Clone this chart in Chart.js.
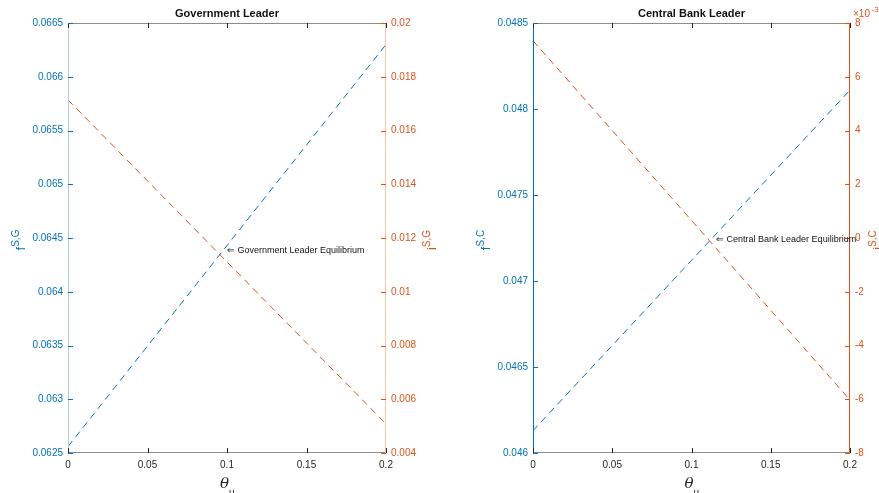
<!DOCTYPE html>
<html>
<head>
<meta charset="utf-8">
<script src="https://cdn.jsdelivr.net/npm/chart.js@4"></script>
<style>
	body { margin: 0; background: #fff; }
	.panel { position: absolute; top: 0; height: 493px; }
</style>
</head>
<body>
<div class="panel" style="left:0;width:440px"><canvas id="govChart"></canvas></div>
<div class="panel" style="left:440px;width:439px"><canvas id="cbChart"></canvas></div>
<script>
// theta_u endpoints
const thetaU = [0, 0.2]
const xTicks = [0, 0.05, 0.1, 0.15, 0.2]

// Government leader
const fSG = [0.06256, 0.06630]
const iSG = [0.01714, 0.00508]
const govEq = { x: 0.1, y: 0.06438, text: "\u21D0 Government Leader Equilibrium" }

// Central bank leader
const fSC = [0.04613, 0.04811]
const iSC = [0.00734, -0.00603]
const cbEq = { x: 0.1155, y: 0.04724, text: "\u21D0 Central Bank Leader Equilibrium" }

const BLUE = "#0072BD"
const ORANGE = "#D95319"
const FONT = "'Liberation Sans', Arial, Helvetica, sans-serif"

const fmt = (v) => parseFloat(v.toFixed(6)).toString()

const pts = (ys) => thetaU.map((x, i) => ({ x: x, y: ys[i] }))

// label with superscript, rotated to read bottom to top
function supLabel(ctx, cx, cy, base, sup, color) {
	ctx.save()
	ctx.translate(cx, cy)
	ctx.rotate(-Math.PI / 2)
	ctx.fillStyle = color
	ctx.textBaseline = "alphabetic"
	ctx.font = "13px " + FONT
	const bw = ctx.measureText(base).width
	ctx.font = "10px " + FONT
	const sw = ctx.measureText(sup).width
	const x0 = -(bw + sw) / 2
	ctx.font = "13px " + FONT
	ctx.textAlign = "left"
	ctx.fillText(base, x0, 5)
	ctx.font = "10px " + FONT
	ctx.fillText(sup, x0 + bw, -1)
	ctx.restore()
}

function makePanel(id, p) {
	const decor = {
		id: "decor",
		afterDraw(chart) {
			const ctx = chart.ctx
			const a = chart.chartArea
			const xs = chart.scales.x, yl = chart.scales.y, yr = chart.scales.y2
			ctx.save()
			// box
			ctx.lineWidth = 1
			ctx.strokeStyle = "#8c8c8c"
			ctx.beginPath()
			ctx.moveTo(a.left, a.top + 0.5); ctx.lineTo(a.right, a.top + 0.5)
			ctx.moveTo(a.left, a.bottom - 0.5); ctx.lineTo(a.right, a.bottom - 0.5)
			ctx.stroke()
			ctx.strokeStyle = p.leftAxis
			ctx.beginPath(); ctx.moveTo(a.left + 0.5, a.top); ctx.lineTo(a.left + 0.5, a.bottom); ctx.stroke()
			ctx.strokeStyle = p.rightAxis
			ctx.beginPath(); ctx.moveTo(a.right - 0.5, a.top); ctx.lineTo(a.right - 0.5, a.bottom); ctx.stroke()
			// inward ticks
			ctx.strokeStyle = "#262626"
			ctx.beginPath()
			xs.ticks.forEach((t) => {
				const px = Math.round(xs.getPixelForValue(t.value)) + 0.5
				ctx.moveTo(px, a.bottom); ctx.lineTo(px, a.bottom - 5)
				ctx.moveTo(px, a.top); ctx.lineTo(px, a.top + 5)
			})
			ctx.stroke()
			ctx.strokeStyle = BLUE
			ctx.beginPath()
			yl.ticks.forEach((t) => {
				const py = Math.round(yl.getPixelForValue(t.value)) + 0.5
				ctx.moveTo(a.left, py); ctx.lineTo(a.left + 5, py)
			})
			ctx.stroke()
			ctx.strokeStyle = ORANGE
			ctx.beginPath()
			yr.ticks.forEach((t) => {
				const py = Math.round(yr.getPixelForValue(t.value)) + 0.5
				ctx.moveTo(a.right, py); ctx.lineTo(a.right - 5, py)
			})
			ctx.stroke()
			// title
			ctx.fillStyle = "#111"
			ctx.font = "bold 11px " + FONT
			ctx.textAlign = "center"
			ctx.textBaseline = "middle"
			ctx.fillText(p.title, (a.left + a.right) / 2, 14)
			// x title
			const cx = (a.left + a.right) / 2
			ctx.fillStyle = "#262626"
			ctx.font = "italic 15px 'DejaVu Serif', serif"
			ctx.textAlign = "right"
			ctx.textBaseline = "alphabetic"
			ctx.fillText("\u03B8", cx + 2, 488)
			ctx.font = "10px " + FONT
			ctx.textAlign = "left"
			ctx.fillText("u", cx + 2, 496)
			// y titles
			supLabel(ctx, p.leftLabelX, 240, "f", p.supText, BLUE)
			supLabel(ctx, p.rightLabelX, 240, "i", p.supText, ORANGE)
			// annotation
			const ax = xs.getPixelForValue(p.eq.x)
			const ay = yl.getPixelForValue(p.eq.y)
			ctx.fillStyle = "#111"
			ctx.font = "9px " + FONT
			ctx.textAlign = "left"
			ctx.textBaseline = "middle"
			ctx.fillText(p.eq.text, ax, ay)
			if (p.exponent) {
				ctx.fillStyle = ORANGE
				ctx.font = "10px " + FONT
				ctx.textBaseline = "alphabetic"
				ctx.fillText("\u00D710", a.right + 3, 17)
				ctx.font = "8px " + FONT
				ctx.fillText("-3", a.right + 3 + ctx.measureText("\u00D710").width + 5, 12)
			}
			ctx.restore()
		},
	}

	const config = {
		type: "line",
		data: {
			datasets: [
				{
					data: pts(p.f),
					yAxisID: "y",
					borderColor: BLUE,
					borderWidth: 1,
					borderDash: [7, 5],
					pointRadius: 0,
				},
				{
					data: pts(p.i),
					yAxisID: "y2",
					borderColor: ORANGE,
					borderWidth: 1,
					borderDash: [7, 5],
					pointRadius: 0,
				},
			],
		},
		options: {
			responsive: true,
			maintainAspectRatio: false,
			animation: false,
			layout: { padding: { top: 23, left: 0, right: 0, bottom: 0 } },
			plugins: { legend: { display: false }, tooltip: { enabled: false } },
			scales: {
				x: {
					type: "linear",
					min: 0,
					max: 0.2,
					afterBuildTicks: (s) => { s.ticks = xTicks.map((v) => ({ value: v })) },
					grid: { display: false, drawTicks: false },
					border: { display: false },
					ticks: { color: "#262626", font: { size: 10, family: FONT }, padding: 6, callback: fmt, maxRotation: 0 },
					afterFit: (s) => { s.height = 40 },
				},
				y: {
					position: "left",
					min: p.fMin,
					max: p.fMax,
					ticks: { stepSize: 0.0005, color: BLUE, font: { size: 10, family: FONT }, padding: 5, callback: fmt },
					grid: { display: false, drawTicks: false },
					border: { display: false },
					afterFit: (s) => { s.width = p.leftW },
				},
				y2: {
					position: "right",
					min: p.iMin,
					max: p.iMax,
					ticks: { stepSize: p.iStep, color: ORANGE, font: { size: 10, family: FONT }, padding: 5, callback: p.iFmt },
					grid: { display: false, drawTicks: false },
					border: { display: false },
					afterFit: (s) => { s.width = p.rightW },
				},
			},
		},
		plugins: [decor],
	}

	new Chart(document.getElementById(id), config)
}

makePanel("govChart", {
	title: "Government Leader",
	f: fSG, i: iSG, eq: govEq,
	fMin: 0.0625, fMax: 0.0665,
	iMin: 0.004, iMax: 0.02, iStep: 0.002, iFmt: fmt,
	leftW: 68, rightW: 54,
	leftAxis: "#a9cdea", rightAxis: "#f4c6ab",
	leftLabelX: 20, rightLabelX: 431,
	supText: "S,G",
	exponent: false,
})

makePanel("cbChart", {
	title: "Central Bank Leader",
	f: fSC, i: iSC, eq: cbEq,
	fMin: 0.046, fMax: 0.0485,
	iMin: -0.008, iMax: 0.008, iStep: 0.002, iFmt: (v) => Math.round(v * 1000).toString(),
	leftW: 93, rightW: 29,
	leftAxis: BLUE, rightAxis: ORANGE,
	leftLabelX: 45, rightLabelX: 437,
	supText: "S,C",
	exponent: true,
})
</script>
</body>
</html>
